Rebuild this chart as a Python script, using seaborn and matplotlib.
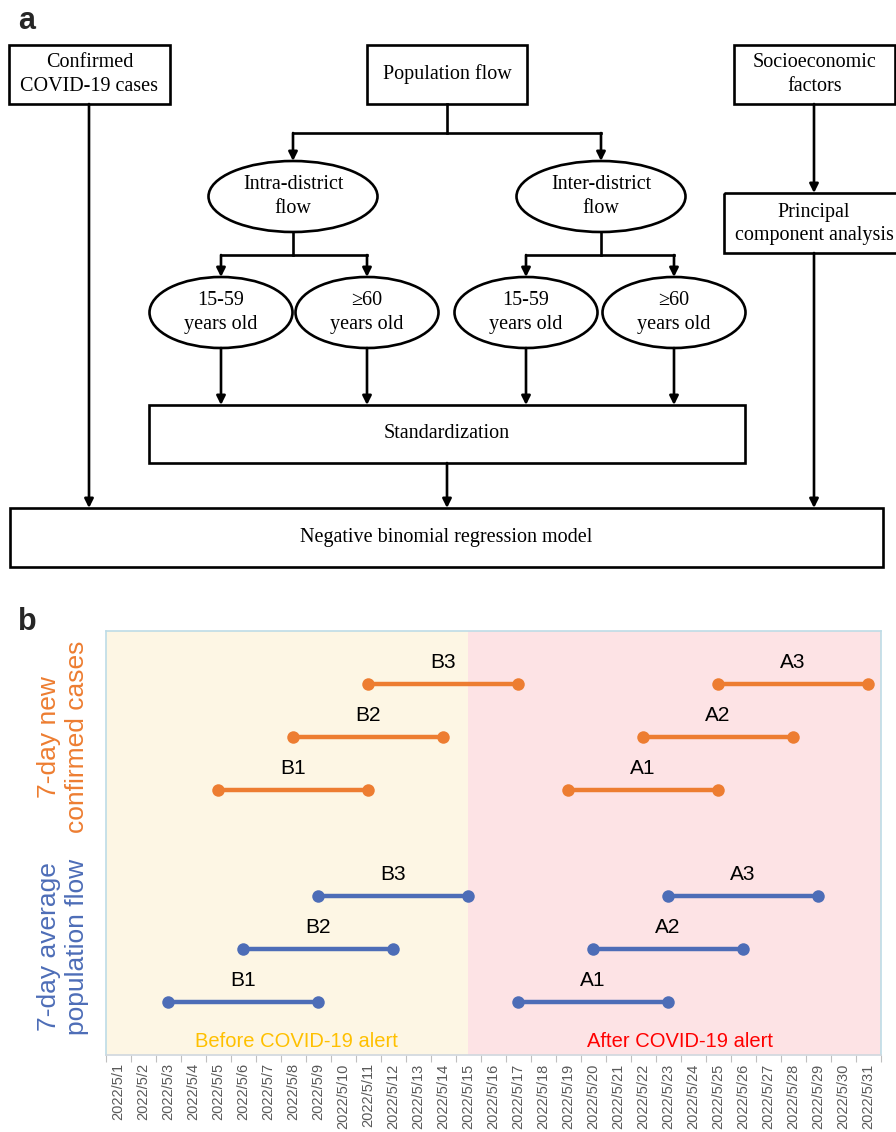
import pandas as pd
import numpy as np
import matplotlib
matplotlib.use("Agg")
import matplotlib.pyplot as plt
from matplotlib.patches import Ellipse, Rectangle
import seaborn as sns

# ---- data for panel b: 7-day windows (start / end day of May 2022)
labels = ["B1", "B2", "B3", "A1", "A2", "A3"]
cases_start = [5, 8, 11, 19, 22, 25]
cases_end = [11, 14, 17, 25, 28, 31]
flow_start = [3, 6, 9, 17, 20, 23]
flow_end = [9, 12, 15, 23, 26, 29]
alert_day = 15
days = list(range(1, 32))
tick_labels = ["2022/5/%d" % d for d in days]

ORANGE = "#ED7D31"
BLUE = "#4D6DB7"

sns.set_theme(style="white")
plt.rcParams["font.family"] = ["Liberation Sans", "DejaVu Sans"]

fig = plt.figure(figsize=(8.96, 11.32), dpi=100)

# ---------------- panel a: flowchart (pixel coordinates) ----------------
ax_a = fig.add_axes([0, 0, 1, 1])
ax_a.set_xlim(0, 896)
ax_a.set_ylim(1132, 0)
ax_a.axis("off")

LW = 1.9
serif = dict(family=["Liberation Serif", "DejaVu Serif"], fontsize=14.5, color="black",
             ha="center", va="center", linespacing=1.35)


def box(x0, y0, x1, y1, text):
    ax_a.add_patch(Rectangle((x0, y0), x1 - x0, y1 - y0, fill=False, lw=LW, ec="black"))
    ax_a.text((x0 + x1) / 2, (y0 + y1) / 2, text, **serif)


def oval(cx, cy, w, h, text):
    ax_a.add_patch(Ellipse((cx, cy), w, h, fill=False, lw=LW, ec="black"))
    ax_a.text(cx, cy, text, **serif)


def line(xs, ys):
    ax_a.plot(xs, ys, color="black", lw=LW, solid_capstyle="projecting")


def arrow(x, y0, y1):
    ax_a.annotate("", xy=(x, y1), xytext=(x, y0),
                  arrowprops=dict(arrowstyle="-|>", lw=LW, color="black",
                                  mutation_scale=13, shrinkA=0, shrinkB=0))


ax_a.text(27, 21, "a", fontsize=22, fontweight="bold", ha="center", va="center")

box(9, 45, 170, 104, "Confirmed\nCOVID-19 cases")
box(367, 45, 527, 104, "Population flow")
box(734, 45, 895, 104, "Socioeconomic\nfactors")
box(724, 193, 910, 253, "")
ax_a.text(814, 224, "Principal\ncomponent analysis", **serif)

line([447, 447], [104, 133])
line([293, 601], [133, 133])
arrow(293, 133, 161)
arrow(601, 133, 161)
oval(293, 196.5, 169, 71, "Intra-district\nflow")
oval(601, 196.5, 169, 71, "Inter-district\nflow")

line([293, 293], [232, 255])
line([221, 367], [255, 255])
line([601, 601], [232, 255])
line([526, 674], [255, 255])
for cx in [221, 367, 526, 674]:
    arrow(cx, 255, 277)
oval(221, 312.5, 143, 71, "15-59\nyears old")
oval(367, 312.5, 143, 71, "\u226560\nyears old")
oval(526, 312.5, 143, 71, "15-59\nyears old")
oval(674, 312.5, 143, 71, "\u226560\nyears old")

for cx in [221, 367, 526, 674]:
    arrow(cx, 348, 405)
box(149, 405, 745, 463, "Standardization")

arrow(814, 104, 193)
arrow(89, 104, 508)
arrow(447, 463, 508)
arrow(814, 253, 508)
box(10, 508, 883, 567, "Negative binomial regression model")

# ---------------- panel b: time windows ----------------
ax_a.text(27, 622, "b", fontsize=22, fontweight="bold", ha="center", va="center")
ax_a.text(63, 737, "7-day new\nconfirmed cases", color=ORANGE, fontsize=19, rotation=90,
          ha="center", va="center", multialignment="center", linespacing=1.2)
ax_a.text(63, 947, "7-day average\npopulation flow", color=BLUE, fontsize=19, rotation=90,
          ha="center", va="center", multialignment="center", linespacing=1.2)

rows = []
for series, starts, ends, base in [("cases", cases_start, cases_end, 4),
                                   ("flow", flow_start, flow_end, 8)]:
    for lab, s, e in zip(labels, starts, ends):
        row = base - int(lab[1])
        rows.append(dict(series=series, label=series + lab, name=lab, row=row,
                         date=pd.Timestamp(2022, 5, s)))
        rows.append(dict(series=series, label=series + lab, name=lab, row=row,
                         date=pd.Timestamp(2022, 5, e)))
df = pd.DataFrame(rows)

ax_b = fig.add_axes([105.5 / 896, (1132 - 1055) / 1132, 775 / 896, 424 / 1132])
ax_b.set_zorder(2)

x_lo = pd.Timestamp(2022, 5, 1) - pd.Timedelta(hours=12)
x_hi = pd.Timestamp(2022, 5, 31) + pd.Timedelta(hours=12)
alert = pd.Timestamp(2022, 5, alert_day)
ax_b.axvspan(x_lo, alert, color="#FDF6E4", lw=0, zorder=0)
ax_b.axvspan(alert, x_hi, color="#FDE3E5", lw=0, zorder=0)

sns.lineplot(data=df, x="date", y="row", hue="series", units="label", estimator=None,
             palette={"cases": ORANGE, "flow": BLUE}, marker="o", markersize=9,
             markeredgewidth=0, lw=3.2, legend=False, ax=ax_b, zorder=3)

mids = df.groupby(["label", "name", "row"], as_index=False)["date"].mean()
for _, r in mids.iterrows():
    ax_b.text(r["date"], r["row"] - 0.4, r["name"], fontsize=15, color="black",
              ha="center", va="center", zorder=4)

ax_b.text(0.246, 0.031, "Before COVID-19 alert", transform=ax_b.transAxes, color="#FFC000",
          fontsize=14.5, ha="center", va="center")
ax_b.text(0.741, 0.031, "After COVID-19 alert", transform=ax_b.transAxes, color="#FF0000",
          fontsize=14.5, ha="center", va="center")

ax_b.set_xlim(x_lo, x_hi)
ax_b.set_ylim(8, 0)
ax_b.set_yticks([])
ax_b.set_ylabel("")
ax_b.set_xlabel("")
ax_b.set_xticks([pd.Timestamp(2022, 5, d) for d in days])
ax_b.set_xticklabels(tick_labels, rotation=90, fontsize=10.5, color="#595959")
ax_b.set_xticks([pd.Timestamp(2022, 5, d) - pd.Timedelta(hours=12) for d in days]
                + [x_hi], minor=True)
ax_b.tick_params(axis="x", which="major", length=0, pad=6)
ax_b.tick_params(axis="x", which="minor", length=5, width=0.8, color="#BFBFBF", bottom=True)
for sp in ax_b.spines.values():
    sp.set_visible(True)
    sp.set_color("#BEDCE6")
    sp.set_linewidth(1.2)
ax_b.spines["bottom"].set_color("#D0D7DE")

fig.savefig("out.png", dpi=100)
